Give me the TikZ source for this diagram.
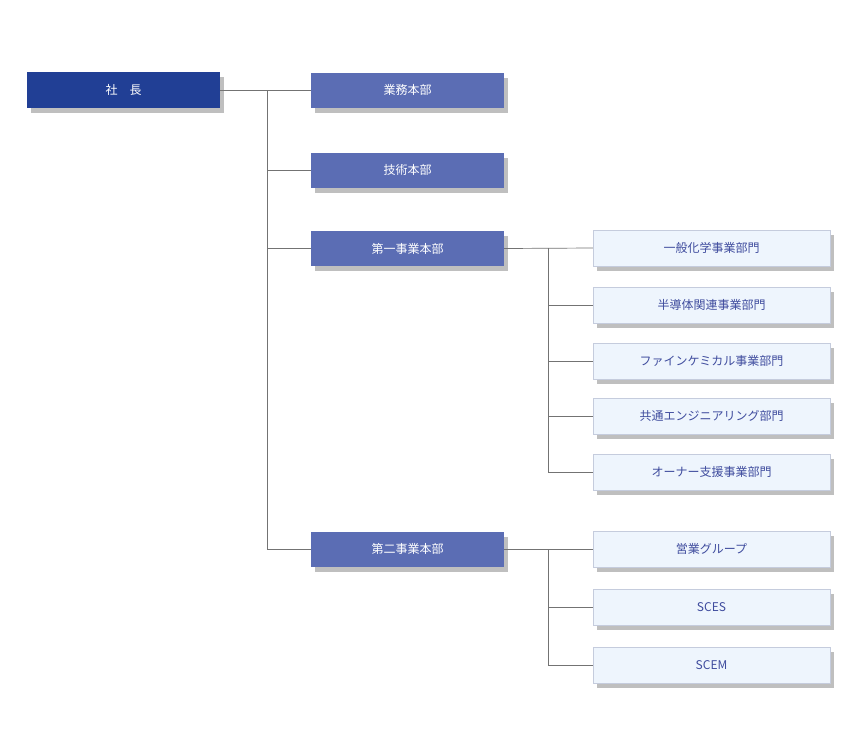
\documentclass[tikz,border=0pt]{standalone}
\usepackage{fontspec}
\newfontfamily\cjk{Noto Sans CJK JP}
\usetikzlibrary{shadows}
\definecolor{topc}{HTML}{213F95}
\definecolor{midc}{HTML}{5B6DB4}
\definecolor{lowc}{HTML}{EEF5FD}
\definecolor{lowt}{HTML}{3F4C9E}
\definecolor{lowb}{HTML}{C5CCDD}
\begin{document}
\begin{tikzpicture}[x=1pt,y=-1pt,
 shd/.style={drop shadow={shadow xshift=4pt,shadow yshift=-5pt,opacity=0.25,fill=black}},
 topbox/.style={shd,fill=topc,minimum width=193pt,minimum height=36pt,inner sep=0pt,text=white,font=\cjk\fontsize{12}{14}\selectfont},
 midbox/.style={shd,fill=midc,minimum width=193pt,minimum height=35pt,inner sep=0pt,text=white,font=\cjk\fontsize{12}{14}\selectfont},
 lowbox/.style={shd,fill=lowc,draw=lowb,line width=0.5pt,minimum width=237pt,minimum height=36pt,inner sep=0pt,text=lowt,font=\cjk\fontsize{12}{14}\selectfont},
 conn/.style={draw=black!55,line width=0.7pt}]
\useasboundingbox[fill=white] (0,0) rectangle (864,750);
\node[topbox] (ceo) at (123.5,90) {社\quad 長};
\node[midbox] (a) at (407.5,90) {業務本部};
\node[midbox] (b) at (407.5,170) {技術本部};
\node[midbox] (c) at (407.5,248.5) {第一事業本部};
\node[midbox] (d) at (407.5,549) {第二事業本部};
\node[lowbox] (c1) at (711.5,248) {一般化学事業部門};
\node[lowbox] (c2) at (711.5,305) {半導体関連事業部門};
\node[lowbox] (c3) at (711.5,361) {ファインケミカル事業部門};
\node[lowbox] (c4) at (711.5,416) {共通エンジニアリング部門};
\node[lowbox] (c5) at (711.5,472) {オーナー支援事業部門};
\node[lowbox] (d1) at (711.5,549) {営業グループ};
\node[lowbox] (d2) at (711.5,607) {SCES};
\node[lowbox] (d3) at (711.5,665) {SCEM};
\coordinate (j0) at (267,90);
\coordinate (j1) at (548,248);
\coordinate (j2) at (548,549);
\begin{scope}[on background layer/.try]
\draw[conn] (ceo.east) -- (a.west);
\draw[conn] (j0) |- (d.west);
\foreach \n in {b,c} \draw[conn] (j0 |- \n.west) -- (\n.west);
\draw[conn] (c.east) -- (c1.west);
\draw[conn] (j1) |- (c5.west);
\foreach \n in {c2,c3,c4} \draw[conn] (j1 |- \n.west) -- (\n.west);
\draw[conn] (d.east) -- (d1.west);
\draw[conn] (j2) |- (d3.west);
\draw[conn] (j2 |- d2.west) -- (d2.west);
\end{scope}
\end{tikzpicture}
\end{document}
